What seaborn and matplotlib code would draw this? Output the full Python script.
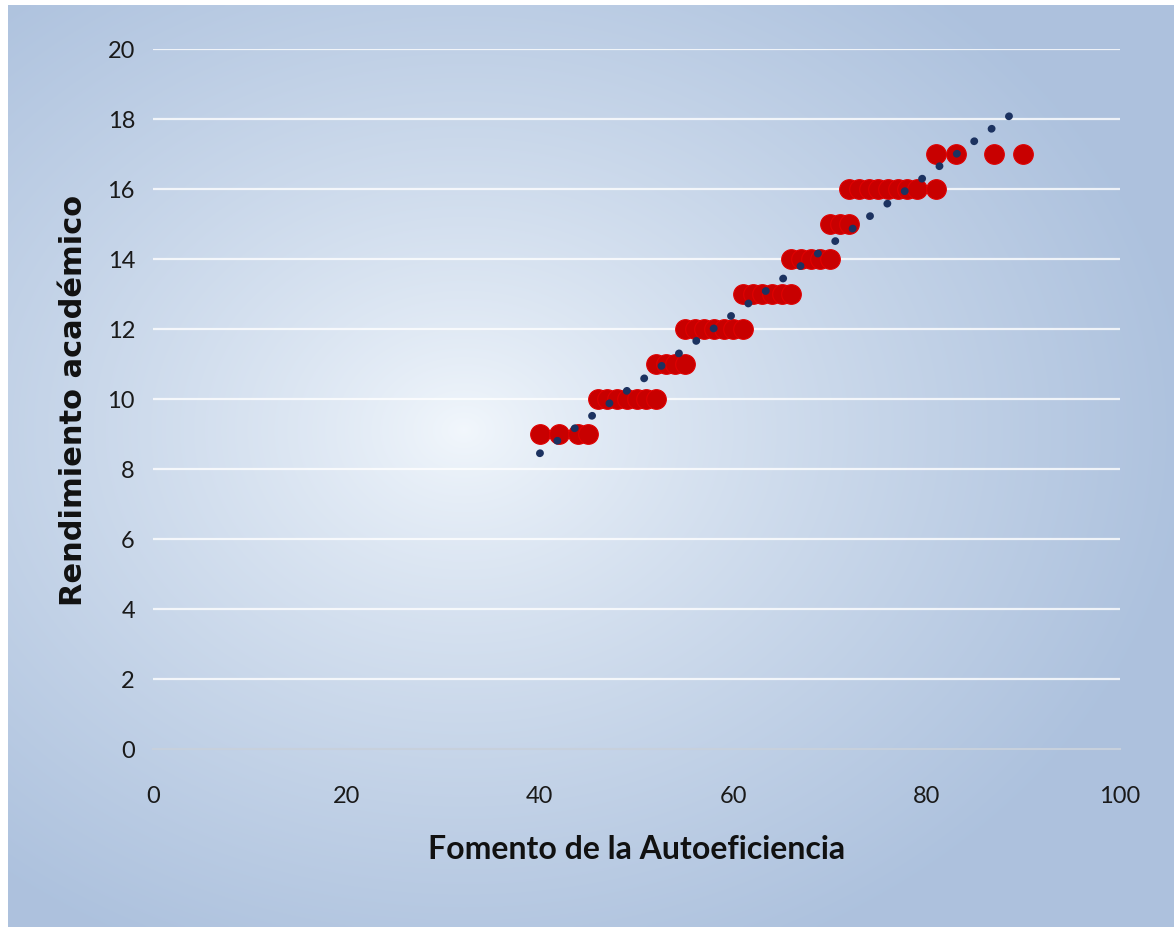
import numpy as np
import pandas as pd
import seaborn as sns
import matplotlib.pyplot as plt

# Fomento de la Autoeficiencia (x) and Rendimiento académico (y)
x_y9 = [40, 42, 44, 45]
x_y10 = [46, 47, 48, 49, 50, 51, 52]
x_y11 = [52, 53, 54, 55]
x_y12 = [55, 56, 57, 58, 59, 60, 61]
x_y13 = [61, 62, 63, 64, 65, 66]
x_y14 = [66, 67, 68, 69, 70]
x_y15 = [70, 71, 72]
x_y16 = [72, 73, 74, 75, 76, 77, 78, 79, 81]
x_y17 = [81, 83, 87, 90]

y_ticks = [0, 2, 4, 6, 8, 10, 12, 14, 16, 18, 20]
x_ticks = [0, 20, 40, 60, 80, 100]


def build_frame():
    """Stack the groups into one long table"""
    groups = {9: x_y9, 10: x_y10, 11: x_y11, 12: x_y12, 13: x_y13,
              14: x_y14, 15: x_y15, 16: x_y16, 17: x_y17}
    rows = [(xv, yv) for yv, xs in groups.items() for xv in xs]
    return pd.DataFrame(rows, columns=["Fomento", "Rendimiento"])


def draw_background(fig):
    """Soft radial gradient like the Excel chart area"""
    bg = fig.add_axes([8 / 1174, 0, 1 - 8 / 1174, 1 - 6 / 928], zorder=-10)
    h, w = 400, 500
    yy, xx = np.mgrid[0:h, 0:w]
    cx, cy = 0.39 * w, 0.46 * h
    r = np.sqrt(((xx - cx) / (0.62 * w)) ** 2 + ((yy - cy) / (0.62 * h)) ** 2)
    r = np.clip(r, 0, 1) ** 0.8
    inner = np.array([0.95, 0.97, 0.99])
    outer = np.array([0.68, 0.76, 0.87])
    img = inner[None, None, :] * (1 - r[..., None]) + outer[None, None, :] * r[..., None]
    bg.imshow(img, aspect="auto", interpolation="bilinear")
    bg.axis("off")


def main():
    df = build_frame()
    sns.set_style("white")
    fig = plt.figure(figsize=(11.74, 9.28), dpi=100, facecolor="white")
    draw_background(fig)
    ax = fig.add_axes([153 / 1174, 1 - 750 / 928, 967 / 1174, 700 / 928])
    ax.patch.set_alpha(0)

    for yv in y_ticks[1:]:
        ax.axhline(yv, color="white", lw=1.6, alpha=0.8, zorder=0)

    sns.scatterplot(data=df, x="Fomento", y="Rendimiento", ax=ax,
                    color="#c80000", edgecolor="#e00000", s=200,
                    linewidth=0.8, zorder=3)
    sns.regplot(data=df, x="Fomento", y="Rendimiento", ax=ax,
                scatter=False, ci=None, truncate=True,
                line_kws=dict(color="#1c3260", lw=5.5,
                              linestyle=(0, (0.05, 2.75)),
                              dash_capstyle="round", zorder=4))

    ax.set_xlim(0, 100)
    ax.set_ylim(0, 20)
    ax.set_xticks(x_ticks)
    ax.set_yticks(y_ticks)
    ax.tick_params(axis="x", length=0, labelsize=17, colors="#1a1a1a", pad=26)
    ax.tick_params(axis="y", length=0, labelsize=17, colors="#1a1a1a", pad=13)
    for lab in ax.get_xticklabels() + ax.get_yticklabels():
        lab.set_family("Lato")
    for side in ["top", "right", "left"]:
        ax.spines[side].set_visible(False)
    ax.spines["bottom"].set_color("#c7d0dc")
    ax.spines["bottom"].set_linewidth(1.5)

    ax.set_xlabel("Fomento de la Autoeficiencia", fontsize=23,
                  fontweight="bold", family="Lato", color="#111111",
                  labelpad=20)
    ax.set_ylabel("Rendimiento académico", fontsize=22,
                  fontweight="bold", family="DejaVu Sans", color="#111111",
                  labelpad=14)

    fig.savefig("out.png", dpi=100)


if __name__ == "__main__":
    main()
